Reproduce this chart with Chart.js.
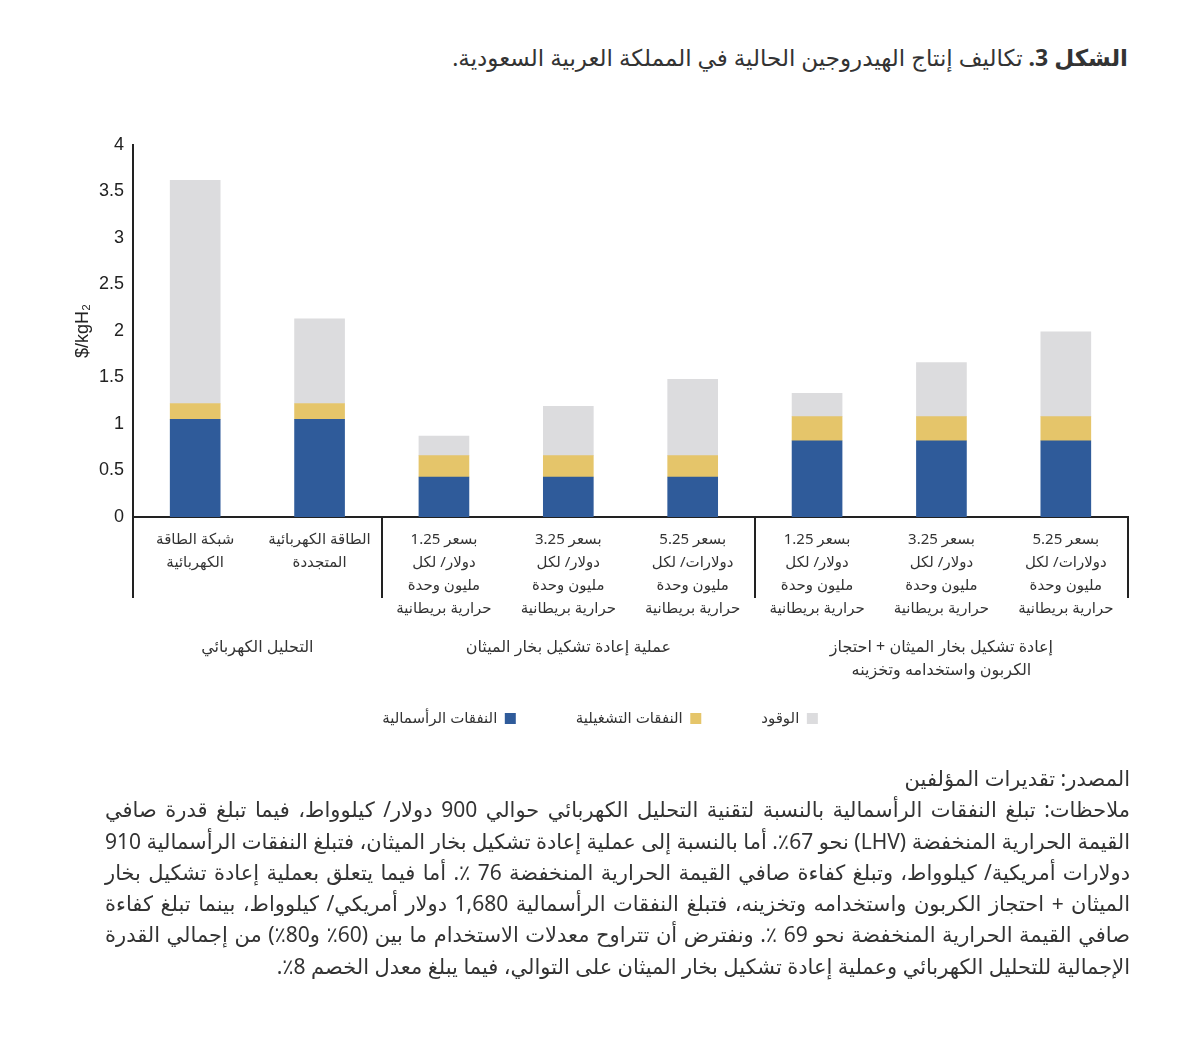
<!DOCTYPE html>
<html lang="ar">
<head>
  <meta charset="UTF-8" />
  <title>تكاليف إنتاج الهيدروجين</title>
  <script src="https://cdn.jsdelivr.net/npm/chart.js"></script>
  <style>
    body {
      margin: 0;
      background: #ffffff;
      font-family: "Noto Sans", "DejaVu Sans", sans-serif;
      color: #333;
    }
    .page {
      position: relative;
      width: 1200px;
      height: 1050px;
    }
    .title {
      position: absolute;
      top: 41px;
      right: 72px;
      font-size: 23px;
      direction: rtl;
      color: #333;
    }
    .title b { font-weight: 700; }
    #chart {
      position: absolute;
      left: 0;
      top: 100px;
    }
    .notes {
      position: absolute;
      top: 763px;
      left: 105px;
      right: 70px;
      direction: rtl;
      font-size: 21px;
      line-height: 31.3px;
      color: #333;
      white-space: nowrap;
    }
    .notes .j {
      text-align: justify;
      text-align-last: justify;
    }
  </style>
</head>
<body>
  <div class="page">
    <div class="title"><b>الشكل 3.</b> تكاليف إنتاج الهيدروجين الحالية في المملكة العربية السعودية.</div>
    <canvas id="chart" width="1200" height="680"></canvas>
    <div class="notes">
      <div>المصدر: تقديرات المؤلفين</div>
      <div class="j">ملاحظات: تبلغ النفقات الرأسمالية بالنسبة لتقنية التحليل الكهربائي حوالي 900 دولار/ كيلوواط، فيما تبلغ قدرة صافي</div>
      <div class="j">القيمة الحرارية المنخفضة (LHV) نحو 67٪. أما بالنسبة إلى عملية إعادة تشكيل بخار الميثان، فتبلغ النفقات الرأسمالية 910</div>
      <div class="j">دولارات أمريكية/ كيلوواط، وتبلغ كفاءة صافي القيمة الحرارية المنخفضة 76 ٪. أما فيما يتعلق بعملية إعادة تشكيل بخار</div>
      <div class="j">الميثان + احتجاز الكربون واستخدامه وتخزينه، فتبلغ النفقات الرأسمالية 1,680 دولار أمريكي/ كيلوواط، بينما تبلغ كفاءة</div>
      <div class="j">صافي القيمة الحرارية المنخفضة نحو 69 ٪. ونفترض أن تتراوح معدلات الاستخدام ما بين (60٪ و80٪) من إجمالي القدرة</div>
      <div>الإجمالية للتحليل الكهربائي وعملية إعادة تشكيل بخار الميثان على التوالي، فيما يبلغ معدل الخصم 8٪.</div>
    </div>
  </div>

  <script>
    // categories (each one is a list of lines)
    const categories = [
      ['شبكة الطاقة', 'الكهربائية'],
      ['الطاقة الكهربائية', 'المتجددة'],
      ['بسعر 1.25', 'دولار/ لكل', 'مليون وحدة', 'حرارية بريطانية'],
      ['بسعر 3.25', 'دولار/ لكل', 'مليون وحدة', 'حرارية بريطانية'],
      ['بسعر 5.25', 'دولارات/ لكل', 'مليون وحدة', 'حرارية بريطانية'],
      ['بسعر 1.25', 'دولار/ لكل', 'مليون وحدة', 'حرارية بريطانية'],
      ['بسعر 3.25', 'دولار/ لكل', 'مليون وحدة', 'حرارية بريطانية'],
      ['بسعر 5.25', 'دولارات/ لكل', 'مليون وحدة', 'حرارية بريطانية']
    ];

    // groups: label lines, first and last category index
    const groupLabels = [
      ['التحليل الكهربائي'],
      ['عملية إعادة تشكيل بخار الميثان'],
      ['إعادة تشكيل بخار الميثان + احتجاز', 'الكربون واستخدامه وتخزينه']
    ];
    const groupStart = [0, 2, 5];
    const groupEnd = [1, 4, 7];

    // $/kgH2
    const capex = [1.05, 1.05, 0.43, 0.43, 0.43, 0.82, 0.82, 0.82];
    const opex  = [0.17, 0.17, 0.23, 0.23, 0.23, 0.26, 0.26, 0.26];
    const fuel  = [2.40, 0.91, 0.21, 0.53, 0.82, 0.25, 0.58, 0.91];

    const seriesNames = ['النفقات الرأسمالية', 'النفقات التشغيلية', 'الوقود'];
    const seriesColors = ['#2f5b9a', '#e5c56a', '#dcdcde'];

    const yTicks = [0, 0.5, 1, 1.5, 2, 2.5, 3, 3.5, 4];

    const arabicFont = '"Noto Sans", "DejaVu Sans", sans-serif';
    const latinFont = '"Liberation Sans", Arial, sans-serif';

    // group labels and the vertical separators under the x axis
    const groupPlugin = {
      id: 'groups',
      afterDraw(chart) {
        const ctx = chart.ctx;
        const x = chart.scales.x;
        const bottom = chart.chartArea.bottom;
        const half = (x.getPixelForValue(1) - x.getPixelForValue(0)) / 2;

        ctx.save();
        ctx.strokeStyle = '#222';
        ctx.lineWidth = 2;
        const edges = [groupStart[0]].concat(groupEnd.map(e => e + 1));
        edges.forEach(i => {
          const px = Math.round(x.getPixelForValue(i) - half);
          ctx.beginPath();
          ctx.moveTo(px, bottom);
          ctx.lineTo(px, bottom + 81);
          ctx.stroke();
        });

        ctx.fillStyle = '#333';
        ctx.font = '16px ' + arabicFont;
        ctx.textAlign = 'center';
        ctx.textBaseline = 'middle';
        groupLabels.forEach((lines, g) => {
          const cx = (x.getPixelForValue(groupStart[g]) + x.getPixelForValue(groupEnd[g])) / 2;
          lines.forEach((line, k) => {
            ctx.fillText(line, cx, bottom + 130 + k * 23);
          });
        });
        ctx.restore();
      }
    };

    new Chart(document.getElementById('chart'), {
      type: 'bar',
      data: {
        labels: categories,
        datasets: [
          { label: seriesNames[0], data: capex, backgroundColor: seriesColors[0] },
          { label: seriesNames[1], data: opex, backgroundColor: seriesColors[1] },
          { label: seriesNames[2], data: fuel, backgroundColor: seriesColors[2] }
        ]
      },
      options: {
        responsive: false,
        animation: false,
        barThickness: 50,
        layout: { padding: { left: 72, right: 72, top: 45, bottom: 44 } },
        scales: {
          x: {
            stacked: true,
            grid: { display: false, drawTicks: false },
            border: { display: true, color: '#222', width: 2 },
            ticks: {
              autoSkip: false,
              maxRotation: 0,
              padding: 11,
              color: '#333',
              font: { family: arabicFont, size: 15, lineHeight: 1.53 }
            },
            afterFit: s => { s.height = 134; }
          },
          y: {
            stacked: true,
            min: 0,
            max: 4,
            afterBuildTicks: s => { s.ticks = yTicks.map(v => ({ value: v })); },
            grid: { display: false, drawTicks: false },
            border: { display: true, color: '#222', width: 2 },
            ticks: {
              padding: 9,
              color: '#222',
              font: { family: latinFont, size: 18 },
              callback: v => String(v)
            },
            title: {
              display: true,
              text: '$/kgH₂',
              color: '#222',
              padding: 0,
              font: { family: latinFont, size: 18 }
            },
            afterFit: s => { s.width = 61; }
          }
        },
        plugins: {
          legend: {
            position: 'bottom',
            rtl: true,
            textDirection: 'rtl',
            reverse: true,
            labels: {
              boxWidth: 11,
              boxHeight: 11,
              padding: 60,
              color: '#333',
              font: { family: arabicFont, size: 15 }
            }
          },
          tooltip: { enabled: false }
        }
      },
      plugins: [groupPlugin]
    });
  </script>
</body>
</html>
